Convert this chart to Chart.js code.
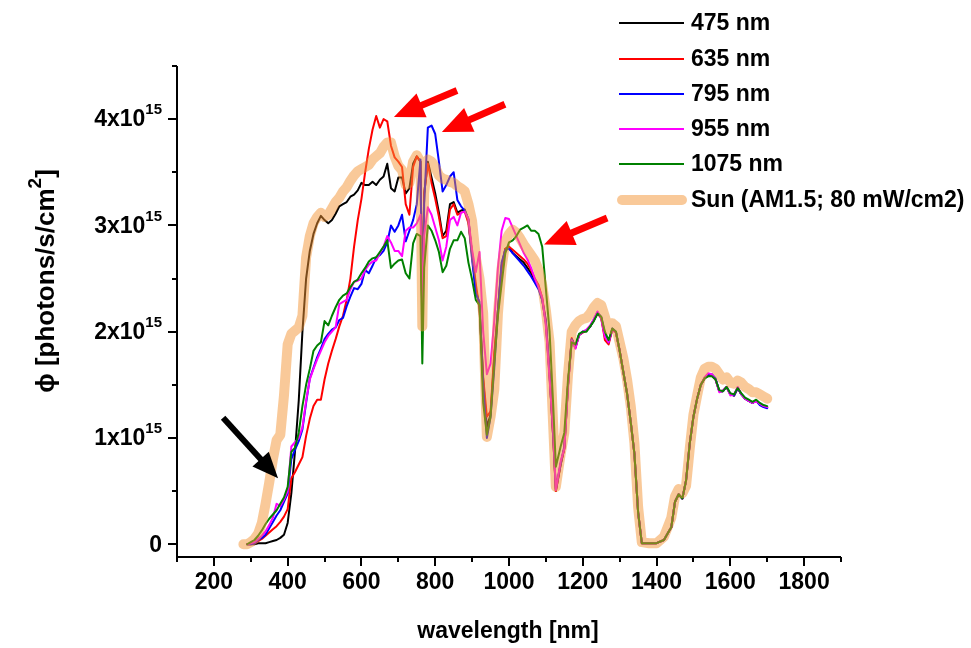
<!DOCTYPE html>
<html>
<head>
<meta charset="utf-8">
<script src="https://cdn.jsdelivr.net/npm/chart.js@4.4.1/dist/chart.umd.min.js"></script>
<style>
html,body{margin:0;padding:0;background:#fff;}
#wrap{width:971px;height:648px;position:relative;}
</style>
</head>
<body>
<div id="wrap"><canvas id="c" width="971" height="648"></canvas></div>
<script>
// ---- DATA (photon flux in units of 10^15 photons/s/cm^2) ----
const wavelengths = [
280,290,300,310,320,330,340,350,360,370,
380,390,400,410,420,430,440,450,460,470,
480,490,500,510,520,530,540,550,560,570,
580,590,600,610,620,630,640,650,660,670,
680,690,700,710,720,730,740,750,760,765,
770,780,790,800,810,820,830,840,850,860,
870,880,890,900,910,920,930,940,950,960,
970,980,990,1000,1010,1020,1030,1040,1050,1060,
1070,1080,1090,1100,1110,1120,1127,1140,1150,1160,
1170,1180,1190,1200,1210,1220,1230,1240,1250,1260,
1270,1280,1290,1300,1310,1320,1330,1340,1350,1360,
1380,1400,1420,1430,1440,1450,1460,1470,1480,1490,
1500,1510,1520,1530,1540,1550,1560,1570,1580,1590,
1600,1610,1620,1630,1640,1650,1660,1670,1680,1690,
1700];

const phi475 = [
null,0,0,0,0.01,0.01,0.01,0.02,0.03,0.04,
0.06,0.09,0.2,0.48,0.88,1.35,2.0,2.5,2.76,2.92,
3.02,3.09,3.05,3.02,3.05,3.11,3.18,3.2,3.22,3.27,
3.29,3.33,3.4,3.38,3.38,3.41,3.38,3.43,3.46,3.58,
3.35,3.32,3.45,3.45,3.3,3.35,3.58,3.65,3.6,2.05,
3.3,3.6,3.45,3.3,3.12,2.9,2.95,3.2,3.22,3.12,
3.14,3.15,3.05,2.72,2.4,2.25,1.55,1.1,1.22,1.75,
2.2,2.62,2.78,2.8,2.74,2.71,2.68,2.65,2.6,2.55,
2.48,2.42,2.3,2.08,1.58,1.0,0.5,0.75,0.9,1.5,
1.93,1.85,1.97,2.0,2.01,2.05,2.11,2.18,2.13,1.96,
1.9,2.02,1.99,1.82,1.62,1.42,1.15,0.85,0.3,0.01,
0.01,0.01,0.04,0.1,0.16,0.4,0.47,0.43,0.6,0.95,
1.2,1.37,1.5,1.56,1.59,1.59,1.55,1.44,1.44,1.48,
1.41,1.4,1.47,1.41,1.37,1.35,1.33,1.35,1.32,1.3,
1.29];

const phi635 = [
null,0,0,0.01,0.03,0.05,0.08,0.11,0.14,0.17,
0.21,0.26,0.33,0.62,0.68,0.75,0.82,1.02,1.18,1.3,
1.36,1.36,1.55,1.7,1.82,1.93,2.05,2.15,2.3,2.5,
2.8,3.05,3.25,3.5,3.72,3.9,4.03,3.92,4.0,3.98,
3.75,3.64,3.6,3.55,3.2,3.1,3.55,3.65,3.6,2.05,
3.3,3.58,3.4,3.25,3.08,2.88,2.9,3.15,3.2,3.1,
3.12,3.13,3.02,2.74,2.45,2.22,1.57,1.2,1.25,1.8,
2.2,2.6,2.78,2.8,2.77,2.74,2.71,2.68,2.64,2.58,
2.5,2.44,2.32,2.1,1.6,1.0,0.5,0.75,0.9,1.5,
1.94,1.85,1.97,1.99,2.01,2.05,2.11,2.17,2.13,1.92,
1.88,2.02,1.99,1.82,1.62,1.42,1.15,0.85,0.3,0.01,
0.01,0.01,0.04,0.1,0.16,0.4,0.47,0.43,0.6,0.95,
1.2,1.37,1.5,1.56,1.6,1.59,1.55,1.44,1.44,1.48,
1.41,1.4,1.47,1.41,1.37,1.35,1.33,1.35,1.32,1.3,
1.29];

const phi795 = [
null,0,0,0.01,0.04,0.06,0.09,0.15,0.21,0.27,
0.32,0.4,0.48,0.8,0.89,0.97,1.08,1.33,1.56,1.66,
1.76,1.84,1.93,1.98,2.02,2.04,2.11,2.13,2.24,2.33,
2.41,2.4,2.45,2.58,2.55,2.62,2.7,2.72,2.76,2.84,
3.0,2.94,3.0,3.1,2.85,2.95,3.05,3.2,3.62,2.05,
3.2,3.92,3.94,3.86,3.6,3.32,3.38,3.46,3.5,3.24,
3.18,3.14,3.06,2.68,2.36,2.28,1.5,1.0,1.2,1.65,
2.2,2.65,2.77,2.78,2.74,2.7,2.66,2.62,2.57,2.52,
2.46,2.4,2.3,2.1,1.6,1.0,0.52,0.76,0.92,1.5,
1.93,1.86,1.97,2.0,2.01,2.05,2.11,2.18,2.14,1.98,
1.9,2.03,2.0,1.82,1.62,1.42,1.15,0.85,0.3,0.01,
0.01,0.01,0.04,0.1,0.16,0.4,0.47,0.43,0.6,0.95,
1.2,1.37,1.5,1.56,1.6,1.6,1.56,1.44,1.44,1.48,
1.41,1.4,1.47,1.41,1.37,1.35,1.33,1.35,1.31,1.29,
1.28];

const phi955 = [
null,0,0.01,0.02,0.05,0.08,0.12,0.18,0.25,0.38,
0.36,0.42,0.5,0.92,0.96,1.0,1.1,1.35,1.55,1.65,
1.74,1.82,1.9,1.96,2.0,2.04,2.26,2.28,2.3,2.4,
2.47,2.48,2.5,2.58,2.63,2.66,2.67,2.74,2.8,2.9,
2.84,2.76,2.76,2.71,2.95,2.98,2.98,3.02,3.1,2.2,
2.9,3.17,3.1,2.98,2.86,2.67,2.8,3.05,3.08,3.0,
3.12,3.13,3.06,2.77,2.56,2.75,2.0,1.6,1.7,2.1,
2.6,2.95,3.07,3.06,2.98,2.9,2.82,2.74,2.68,2.6,
2.5,2.42,2.32,2.05,1.55,1.05,0.51,0.78,0.9,1.48,
1.92,1.84,1.97,2.0,2.02,2.06,2.12,2.19,2.12,1.95,
1.9,2.02,1.99,1.82,1.62,1.42,1.15,0.85,0.3,0.01,
0.01,0.01,0.04,0.1,0.16,0.4,0.47,0.43,0.6,0.95,
1.2,1.37,1.5,1.57,1.61,1.6,1.55,1.43,1.45,1.48,
1.4,1.41,1.48,1.41,1.37,1.35,1.33,1.35,1.32,1.3,
1.29];

const phi1075 = [
null,0,0.02,0.04,0.08,0.13,0.19,0.24,0.28,0.32,
0.38,0.44,0.54,0.87,0.91,1.05,1.3,1.5,1.65,1.82,
1.87,1.9,2.1,2.06,2.15,2.23,2.3,2.34,2.36,2.42,
2.47,2.49,2.55,2.6,2.66,2.69,2.7,2.75,2.8,2.86,
2.6,2.64,2.67,2.68,2.55,2.5,2.83,2.92,2.9,1.7,
2.6,3.0,2.95,2.86,2.75,2.56,2.62,2.78,2.86,2.86,
2.94,2.88,2.65,2.49,2.3,2.25,1.33,1.03,1.2,1.7,
2.15,2.45,2.74,2.84,2.86,2.9,2.96,2.98,3.0,2.95,
2.95,2.92,2.8,2.4,2.0,1.3,0.73,0.92,1.05,1.55,
1.9,1.88,1.98,2.0,2.0,2.05,2.1,2.17,2.14,2.0,
1.92,2.03,2.0,1.82,1.62,1.42,1.15,0.85,0.3,0.01,
0.01,0.01,0.04,0.1,0.16,0.4,0.47,0.43,0.6,0.95,
1.2,1.37,1.5,1.56,1.58,1.58,1.55,1.45,1.44,1.48,
1.42,1.41,1.47,1.42,1.38,1.36,1.34,1.36,1.33,1.31,
1.3];

const phiSun = [
0,0,0.02,0.05,0.1,0.2,0.38,0.58,0.8,0.98,
1.03,1.4,1.88,1.98,2.01,2.04,2.15,2.7,2.9,3.02,
3.08,3.12,3.08,3.1,3.16,3.22,3.26,3.32,3.36,3.42,
3.47,3.51,3.53,3.55,3.57,3.62,3.65,3.68,3.74,3.78,
3.78,3.65,3.56,3.52,3.38,3.4,3.6,3.66,3.6,2.05,
3.3,3.62,3.6,3.55,3.47,3.44,3.43,3.41,3.4,3.37,
3.35,3.32,3.2,3.04,2.7,2.5,2.17,1.01,1.2,1.45,
2.17,2.6,2.85,2.92,2.96,2.93,2.88,2.82,2.77,2.72,
2.67,2.58,2.44,2.2,1.9,1.1,0.54,0.85,1.05,1.6,
2.0,2.06,2.1,2.12,2.13,2.17,2.23,2.27,2.25,2.14,
2.02,2.08,2.05,1.9,1.75,1.55,1.3,0.95,0.35,0.02,
0.01,0.01,0.07,0.16,0.25,0.45,0.52,0.48,0.55,0.9,
1.22,1.4,1.57,1.65,1.67,1.67,1.65,1.6,1.55,1.57,
1.52,1.51,1.54,1.52,1.48,1.46,1.43,1.43,1.41,1.39,
1.37];

const seriesLabels = ['475 nm','635 nm','795 nm','955 nm','1075 nm','Sun (AM1.5; 80 mW/cm2)'];
const xMajorTicks = [200,400,600,800,1000,1200,1400,1600,1800];
const yMajorTicks = [0,1,2,3,4];   // ×10^15
const yTickExponent = '15';

// Annotation arrows, in data coordinates: [fromX, fromY, toX, toY]
const blackArrows = [[225,1.19,374,0.62]];
const redArrows = [[859,4.27,688,4.02],[989,4.14,818,3.88],[1266,3.07,1095,2.82]];

// ---- BUILD ----
const allSeries = [phi475, phi635, phi795, phi955, phi1075, phiSun];
allSeries.forEach((s,i)=>{ if (s.length !== wavelengths.length) throw new Error('length mismatch in series '+i+': '+s.length+' vs '+wavelengths.length); });
const pts = arr => wavelengths.map((w,i)=>({x:w, y:arr[i]}));

const colors = ['#000000','#ff0000','#0000ff','#ff00ff','#008000','rgba(243,148,52,0.5)'];
const FONT = '"Liberation Sans", Arial, sans-serif';

const datasets = allSeries.map((s,i)=>({
  label: seriesLabels[i],
  data: pts(s),
  borderColor: colors[i],
  backgroundColor: colors[i],
  borderWidth: i===5 ? 10 : 2,
  pointRadius: 0,
  tension: 0,
  fill: false,
  spanGaps: true,
  borderCapStyle: 'round',
  borderJoinStyle: 'round',
  order: 5 - i   // Sun drawn on top
}));

function drawArrow(ctx, x1, y1, x2, y2, color, shaft, headLen, headW) {
  const ang = Math.atan2(y2-y1, x2-x1);
  const bx = x2 - headLen*Math.cos(ang), by = y2 - headLen*Math.sin(ang);
  ctx.save();
  ctx.strokeStyle = color; ctx.fillStyle = color;
  ctx.lineWidth = shaft; ctx.lineCap = 'butt';
  ctx.beginPath(); ctx.moveTo(x1,y1); ctx.lineTo(bx + 2*Math.cos(ang), by + 2*Math.sin(ang)); ctx.stroke();
  ctx.beginPath();
  ctx.moveTo(x2,y2);
  ctx.lineTo(bx + headW/2*Math.sin(ang), by - headW/2*Math.cos(ang));
  ctx.lineTo(bx - headW/2*Math.sin(ang), by + headW/2*Math.cos(ang));
  ctx.closePath(); ctx.fill();
  ctx.restore();
}

const decor = {
  id: 'decor',
  afterDraw(chart) {
    const ctx = chart.ctx, xs = chart.scales.x, ys = chart.scales.y, ca = chart.chartArea;
    ctx.save();
    ctx.strokeStyle = '#000'; ctx.fillStyle = '#000'; ctx.lineWidth = 2;
    // axis lines
    ctx.beginPath();
    ctx.moveTo(ca.left, ys.getPixelForValue(ys.max));
    ctx.lineTo(ca.left, ca.bottom);
    ctx.lineTo(xs.getPixelForValue(xs.max), ca.bottom);
    ctx.stroke();
    // x ticks
    for (let v = xs.min; v <= xs.max + 1e-9; v += 100) {
      const px = Math.round(xs.getPixelForValue(v));
      const major = xMajorTicks.includes(v);
      ctx.beginPath(); ctx.moveTo(px, ca.bottom); ctx.lineTo(px, ca.bottom + (major ? 9 : 5)); ctx.stroke();
    }
    ctx.font = 'bold 23px ' + FONT; ctx.textAlign = 'center'; ctx.textBaseline = 'top';
    xMajorTicks.forEach(v => ctx.fillText(String(v), xs.getPixelForValue(v), 571));
    // y ticks
    for (let k = 0; k <= 9; k++) {
      const v = k*0.5;
      const py = Math.round(ys.getPixelForValue(v));
      const major = (k % 2 === 0);
      ctx.beginPath(); ctx.moveTo(ca.left - (major ? 9 : 5), py); ctx.lineTo(ca.left, py); ctx.stroke();
    }
    yMajorTicks.forEach(v => {
      const py = ys.getPixelForValue(v);
      const right = 162;
      ctx.textAlign = 'right'; ctx.textBaseline = 'middle';
      if (v === 0) { ctx.font = 'bold 23px ' + FONT; ctx.fillText('0', right, py + 1); return; }
      ctx.font = 'bold 15px ' + FONT;
      const sw = ctx.measureText(yTickExponent).width;
      ctx.fillText(yTickExponent, right, py - 9);
      ctx.font = 'bold 23px ' + FONT;
      ctx.fillText(v + 'x10', right - sw, py + 1);
    });
    // x title
    ctx.font = 'bold 23px ' + FONT; ctx.textAlign = 'center'; ctx.textBaseline = 'middle';
    ctx.fillText('wavelength [nm]', (ca.left + ca.right)/2 - 1, 632);
    // y title (rotated)
    ctx.save();
    ctx.translate(47, 281); ctx.rotate(-Math.PI/2);
    ctx.textBaseline = 'middle'; ctx.textAlign = 'left';
    const partA = '\u03D5 [photons/s/cm', partB = '2', partC = ']';
    ctx.font = 'bold 26px ' + FONT; const wA = ctx.measureText(partA).width; const wC = ctx.measureText(partC).width;
    ctx.font = 'bold 19px ' + FONT; const wB = ctx.measureText(partB).width;
    let x0 = -(wA + wB + wC)/2;
    ctx.font = 'bold 26px ' + FONT; ctx.fillText(partA, x0, 0);
    ctx.font = 'bold 19px ' + FONT; ctx.fillText(partB, x0 + wA, -11);
    ctx.font = 'bold 26px ' + FONT; ctx.fillText(partC, x0 + wA + wB, 0);
    ctx.restore();
    // arrows
    blackArrows.forEach(a => drawArrow(ctx, xs.getPixelForValue(a[0]), ys.getPixelForValue(a[1]), xs.getPixelForValue(a[2]), ys.getPixelForValue(a[3]), '#000', 6, 26, 22));
    redArrows.forEach(a => drawArrow(ctx, xs.getPixelForValue(a[0]), ys.getPixelForValue(a[1]), xs.getPixelForValue(a[2]), ys.getPixelForValue(a[3]), '#ff0000', 7, 30, 26));
    // legend
    const rows = [23, 59, 94, 129, 164, 200];
    seriesLabels.forEach((lab, i) => {
      const y = rows[i];
      ctx.beginPath();
      ctx.strokeStyle = colors[i];
      ctx.lineWidth = i === 5 ? 10 : 2;
      ctx.lineCap = i === 5 ? 'round' : 'butt';
      ctx.moveTo(i === 5 ? 622 : 619, y); ctx.lineTo(i === 5 ? 682 : 684, y); ctx.stroke();
      ctx.fillStyle = '#000';
      ctx.font = 'bold 23px ' + FONT; ctx.textAlign = 'left'; ctx.textBaseline = 'middle';
      ctx.fillText(lab, 691, y + 1);
    });
    ctx.restore();
  }
};

new Chart(document.getElementById('c'), {
  type: 'line',
  data: { datasets },
  options: {
    responsive: false,
    animation: false,
    layout: { padding: { left: 177, top: 66, right: 130, bottom: 91 } },
    plugins: { legend: { display: false }, tooltip: { enabled: false } },
    scales: {
      x: { type: 'linear', min: 100, max: 1900,
           grid: { display: false, drawTicks: false }, border: { display: false },
           ticks: { display: false } },
      y: { type: 'linear', min: -0.12, max: 4.5,
           grid: { display: false, drawTicks: false }, border: { display: false },
           ticks: { display: false } }
    }
  },
  plugins: [decor]
});
</script>
</body>
</html>
